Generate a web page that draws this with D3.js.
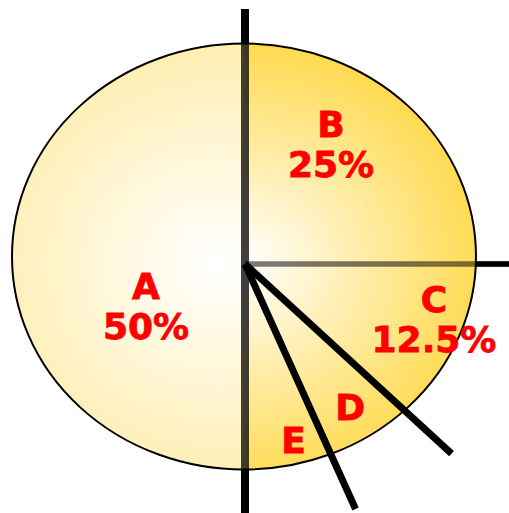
<!DOCTYPE html>
<html>
<head>
<meta charset="utf-8">
<script src="https://cdn.jsdelivr.net/npm/d3@7"></script>
<style>
  html, body { margin: 0; padding: 0; background: #ffffff; }
  svg { display: block; }
</style>
</head>
<body>
<div id="chart"></div>
<script>
// ---- data ----
const categories = ["A", "B", "C", "D", "E"];
const shares = [50, 25, 12.5, 6.25, 6.25];
const percentLabels = ["50%", "25%", "12.5%", "", ""];

// ---- layout / style ----
const W = 509, H = 513;
const center = { x: 245, y: 264 };          // where the slice lines meet
const scaleX = 232, scaleY = 213;           // horizontal / vertical radius
const outline = { cx: 244, cy: 256.5 };     // drawn outline centre
// boundary line styles, keyed by the slice whose start edge they draw
const edgeStyle = {
  A: { width: 8,   len: 1.2,  inner: 0.75, top: false },
  B: { width: 8,   len: 1.197, inner: 0.75, top: false },
  C: { width: 5.5, len: 1.2,  inner: 0.52, top: false },
  D: { width: 7,   len: 1.259, inner: 1,   top: true },
  E: { width: 7,   len: 1.245, inner: 1,   top: true }
};
// label anchor in polar form (normalised radius, angle in degrees)
const labelPlace = {
  A: { r: 0.439, a: 256.4 },
  B: { r: 0.756, a: 29.4 },
  C: { r: 0.831, a: 101.4 },
  D: { r: 0.810, a: 146.0 },
  E: { r: 0.852, a: 165.8 }
};

const svg = d3.select("#chart").append("svg")
  .attr("width", W).attr("height", H);

const defs = svg.append("defs");

function radial(id, cx, edge) {
  const g = defs.append("radialGradient").attr("id", id)
    .attr("gradientUnits", "userSpaceOnUse")
    .attr("cx", cx).attr("cy", 0).attr("r", 1.05);
  g.append("stop").attr("offset", 0).attr("stop-color", "#ffffff");
  g.append("stop").attr("offset", 1).attr("stop-color", edge);
}
radial("gradA", -0.12, "#FFEEB0");
radial("gradB", 0, "#FFD94C");

defs.append("clipPath").attr("id", "pieClip")
  .append("ellipse")
  .attr("cx", (outline.cx - center.x) / scaleX)
  .attr("cy", (outline.cy - center.y) / scaleY)
  .attr("rx", 1).attr("ry", 1);

const pie = d3.pie().sort(null)
  .startAngle(Math.PI).endAngle(3 * Math.PI)
  .value(d => d);
const arcs = pie(shares).map((p, i) => Object.assign(p, { cat: categories[i], pct: percentLabels[i] }));

const arcGen = d3.arc().innerRadius(0).outerRadius(1.6);

function pt(angle, r) {
  return [center.x + scaleX * r * Math.sin(angle), center.y - scaleY * r * Math.cos(angle)];
}

// 1. opaque boundary lines beneath the pie
const edgesUnder = arcs.filter(d => !edgeStyle[d.cat].top);
function drawEdges(sel, data, opacityFn) {
  sel.selectAll(null).data(data).enter().append("line")
    .attr("x1", center.x).attr("y1", center.y)
    .attr("x2", d => pt(d.startAngle, edgeStyle[d.cat].len)[0])
    .attr("y2", d => pt(d.startAngle, edgeStyle[d.cat].len)[1])
    .attr("stroke", "#000")
    .attr("stroke-width", d => edgeStyle[d.cat].width)
    .attr("stroke-opacity", opacityFn);
}
drawEdges(svg.append("g"), edgesUnder, 1);

// 2. slices (scaled unit circle, clipped to outline)
const pieG = svg.append("g")
  .attr("transform", `translate(${center.x},${center.y}) scale(${scaleX},${scaleY})`)
  .append("g").attr("clip-path", "url(#pieClip)");
pieG.selectAll("path").data(arcs).enter().append("path")
  .attr("d", arcGen)
  .attr("fill", d => d.cat === "A" ? "url(#gradA)" : "url(#gradB)");

// 3. translucent lines over the slices
drawEdges(svg.append("g"), edgesUnder, d => edgeStyle[d.cat].inner);

// 4. outline
svg.append("ellipse")
  .attr("cx", outline.cx).attr("cy", outline.cy)
  .attr("rx", scaleX).attr("ry", scaleY)
  .attr("fill", "none").attr("stroke", "#000").attr("stroke-width", 2);

// 5. top lines
drawEdges(svg.append("g"), arcs.filter(d => edgeStyle[d.cat].top), 1);

// 6. labels
const lab = svg.append("g")
  .attr("font-family", "'DejaVu Sans', Verdana, sans-serif")
  .attr("font-weight", "bold")
  .attr("font-size", 36)
  .attr("fill", "#FF0000")
  .attr("stroke", "#FF0000")
  .attr("stroke-width", 0.8)
  .attr("text-anchor", "middle");

arcs.forEach(d => {
  const p = labelPlace[d.cat];
  const [x, y] = pt(p.a * Math.PI / 180, p.r);
  const t = lab.append("text").attr("x", x).attr("y", y + 13);
  t.append("tspan").attr("x", x).text(d.cat);
  if (d.pct) t.append("tspan").attr("x", x).attr("dy", 40.5).text(d.pct);
});
</script>
</body>
</html>
